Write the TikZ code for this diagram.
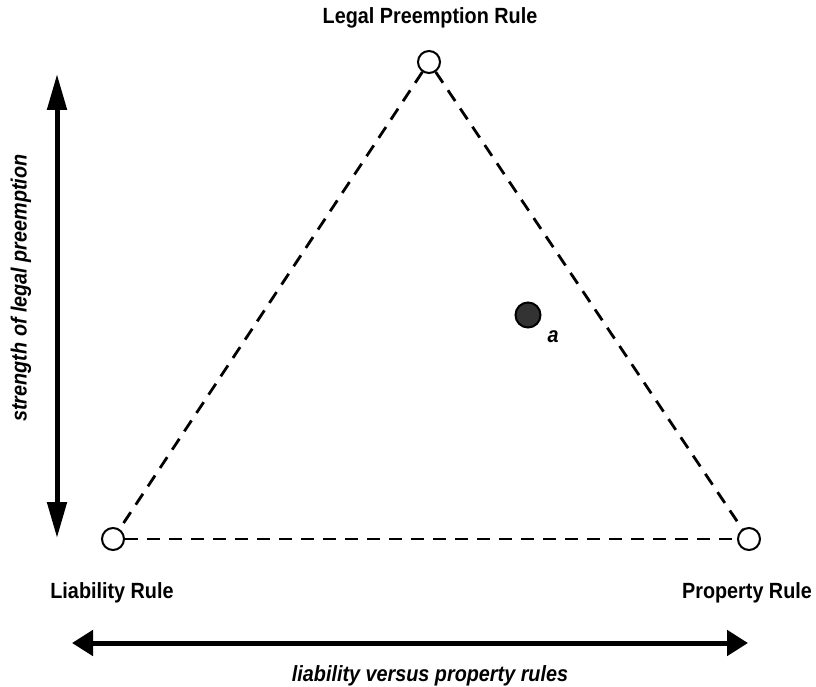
\documentclass[tikz,border=0pt]{standalone}
\usepackage{fontspec}
\setmainfont{Liberation Sans}[FakeStretch=0.9]
\usepackage{tikz}
\usetikzlibrary{arrows.meta, calc}
\begin{document}
\begin{tikzpicture}[x=1pt,y=-1pt,
  corner/.style={circle, draw, line width=2pt, fill=white, minimum size=22pt, inner sep=0pt},
  rulename/.style={font=\fontsize{22}{26}\selectfont\bfseries},
  axisname/.style={font=\fontsize{22}{26}\selectfont\bfseries\itshape},
  side/.style={line width=2.8pt, dash pattern=on 13pt off 9pt}]
\useasboundingbox (0,0) rectangle (816,687);
% corners of the triangle
\node[corner] (top) at (429,62) {};
\node[corner] (left) at (113,539) {};
\node[corner] (right) at (749,539) {};
\draw[side] (top) -- (left);
\draw[side] (top) -- (right);
\draw[side] (left) -- (right);
% point a
\node[circle, draw, line width=2pt, fill=black!80, minimum size=25pt, inner sep=0pt] (a) at (528,315) {};
\node[axisname] (alabel) at (553,337) {a};
% labels of the rules
\node[rulename] (toplabel) at (430,18) {Legal Preemption Rule};
\node[rulename] (leftlabel) at (112,593) {Liability Rule};
\node[rulename] (rightlabel) at (747,593) {Property Rule};
% axes
\coordinate (vtop) at (57,74);
\coordinate (vbottom) at (57,538);
\draw[line width=5pt, {Triangle[length=36pt,width=19pt]}-{Triangle[length=36pt,width=19pt]}] (vtop) -- (vbottom);
\node[axisname, rotate=90] (vlabel) at (21,288) {strength of legal preemption};
\coordinate (hleft) at (72,643);
\coordinate (hright) at (748,643);
\draw[line width=5pt, {Triangle[length=21pt,width=25pt]}-{Triangle[length=21pt,width=25pt]}] (hleft) -- (hright);
\node[axisname] (hlabel) at (430,676) {liability versus property rules};
\end{tikzpicture}
\end{document}
